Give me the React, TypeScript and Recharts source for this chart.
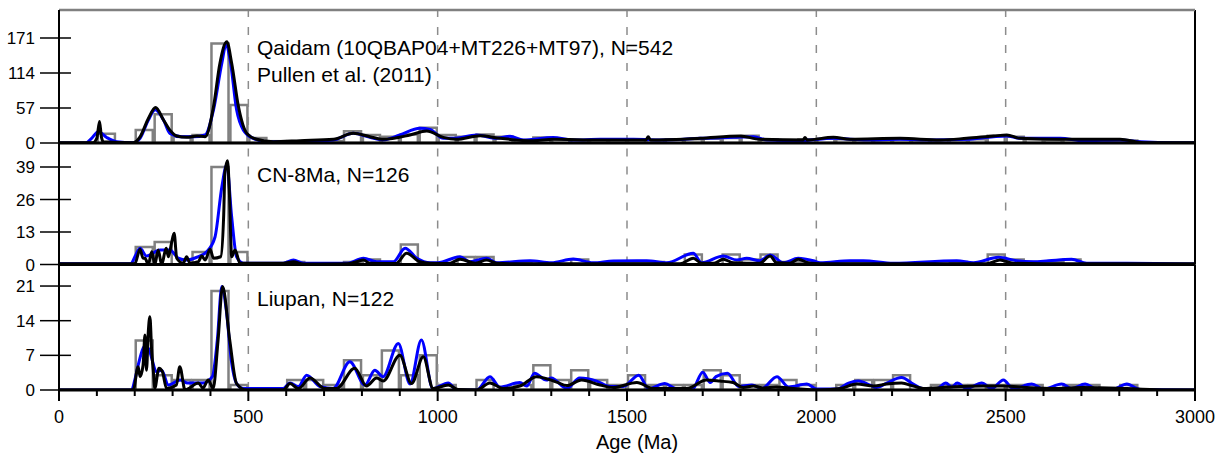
import React from "react";
import { ComposedChart, Bar, Line, XAxis, YAxis, ReferenceLine } from "recharts";

const W = 1222;
const H = 456;

// 50 Ma histogram bins
const binStart = [
  0, 50, 100, 150, 200, 250, 300, 350, 400, 450, 500, 550, 600, 650, 700, 750, 800, 850, 900, 950,
  1000, 1050, 1100, 1150, 1200, 1250, 1300, 1350, 1400, 1450, 1500, 1550, 1600, 1650, 1700, 1750, 1800, 1850, 1900, 1950,
  2000, 2050, 2100, 2150, 2200, 2250, 2300, 2350, 2400, 2450, 2500, 2550, 2600, 2650, 2700, 2750, 2800, 2850, 2900, 2950,
];

const qaidamCounts = [
  0, 0, 15, 0, 21, 47, 11, 13, 162, 62, 8, 3, 3, 2, 3, 19, 13, 10, 14, 25,
  13, 10, 14, 10, 5, 9, 6, 5, 5, 5, 5, 5, 6, 6, 7, 8, 12, 6, 5, 6,
  7, 6, 6, 5, 6, 5, 5, 5, 6, 12, 10, 6, 5, 6, 4, 3, 4, 1, 0, 0,
];
const cnCounts = [
  0, 0, 0, 0, 7, 9, 0, 5, 39, 5, 0, 0, 1, 0, 0, 1, 2, 0, 8, 0,
  0, 3, 3, 0, 1, 0, 0, 2, 0, 1, 1, 1, 0, 4, 0, 4, 2, 4, 1, 1,
  0, 1, 1, 0, 0, 0, 0, 1, 0, 4, 2, 1, 1, 2, 0, 0, 0, 0, 0, 0,
];
const liupanCounts = [
  0, 0, 0, 0, 10, 3, 2, 2, 20, 1, 0, 0, 2, 2, 1, 6, 3, 8, 3, 7,
  1, 0, 2, 0, 1, 5, 2, 4, 2, 1, 3, 1, 1, 1, 4, 3, 1, 1, 2, 1,
  0, 1, 2, 2, 3, 0, 1, 1, 1, 1, 1, 1, 0, 1, 1, 0, 1, 0, 0, 0,
];

// [age (Ma), density]
const qaidamKde: [number, number][] = [
  [0, 0], [70, 0], [86, 7.6], [104, 18.5], [126, 9], [152, 2], [196, 0.5], [214, 7.6], [236, 37.5], [254, 54],
  [276, 37.5], [293, 15.7], [324, 10], [355, 10], [386, 13], [408, 54], [430, 130], [441, 160], [452, 135], [469, 54],
  [487, 21], [513, 7.6], [548, 2.2], [637, 2.2], [725, 4.9], [777, 15.7], [821, 9.2], [857, 4.9], [900, 13], [953, 23.9],
  [980, 22], [1015, 7.6], [1041, 7.6], [1103, 13], [1156, 7.6], [1191, 11], [1226, 4.9], [1305, 9], [1358, 4.9], [1429, 6],
  [1517, 6], [1605, 4.9], [1693, 7.6], [1781, 9.2], [1834, 10.3], [1869, 4.9], [1957, 3.8], [2045, 7.6], [2133, 4.9], [2221, 6],
  [2309, 4.9], [2397, 6], [2468, 10.3], [2503, 11.4], [2538, 7.6], [2644, 7.6], [2705, 3.8], [2802, 4.9], [2855, 2.2], [2950, 0.5],
  [3000, 0.5],
];
const qaidamPdp: [number, number][] = [
  [0, 0.5], [90, 0.5], [100, 8], [107, 35], [112, 10], [117, 2], [196, 0.5], [214, 10], [236, 40], [255, 58],
  [276, 37.5], [293, 21], [311, 11.4], [337, 9.2], [364, 11.4], [386, 10.3], [408, 59], [425, 130], [443, 165], [456, 130],
  [474, 59], [496, 15.7], [522, 6], [566, 2.2], [637, 3.8], [725, 6], [777, 15.7], [821, 10.3], [857, 6], [927, 13],
  [971, 19.5], [1015, 9.2], [1050, 6], [1112, 11.9], [1165, 7.6], [1253, 3.8], [1305, 6], [1429, 4.9], [1550, 5], [1556, 10],
  [1562, 5], [1693, 7.6], [1798, 11.4], [1851, 6], [1965, 5], [1970, 9], [1976, 5], [2045, 9.2], [2089, 6], [2221, 7.6],
  [2327, 4.9], [2397, 7.6], [2468, 11.4], [2503, 13], [2538, 7.6], [2644, 6], [2802, 6], [2864, 0.5], [3000, 0.5],
];

const cnKde: [number, number][] = [
  [0, 0.3], [190, 0.3], [200, 3], [214, 6.5], [231, 3.4], [267, 5.8], [293, 5.8], [315, 2.5], [337, 1.8], [364, 2.9],
  [390, 5.1], [412, 11], [430, 31], [443, 39.8], [456, 19], [469, 3.1], [487, 0.5], [592, 0.5], [619, 1.8], [645, 0.5],
  [760, 0.5], [804, 2.5], [839, 1.1], [883, 1.1], [914, 6.5], [945, 2.5], [980, 0.7], [1000, 0.7], [1059, 3.1], [1085, 1.1],
  [1129, 2.5], [1156, 0.7], [1244, 1.5], [1300, 0.7], [1358, 2.2], [1410, 0.7], [1464, 1.4], [1552, 1.5], [1605, 0.7], [1675, 4.5],
  [1697, 0.7], [1754, 3.4], [1790, 1.8], [1816, 2.5], [1851, 1.5], [1878, 3.8], [1913, 0.7], [1952, 2.5], [1992, 1.5], [2010, 0.7],
  [2089, 1.5], [2124, 1.5], [2203, 0.5], [2371, 1.5], [2415, 0.7], [2481, 2.9], [2529, 1.5], [2573, 1.1], [2613, 1.5], [2674, 2.1],
  [2714, 0.5], [2820, 0.5], [3000, 0.2],
];
const cnPdp: [number, number][] = [
  [0, 0.3], [195, 0.3], [201, 0.5], [214, 6.1], [222, 2.5], [227, 2.5], [236, 0], [245, 5.1], [253, 0], [262, 5.8],
  [271, 0], [283, 6.5], [289, 3.1], [297, 8.5], [304, 12.5], [311, 2.5], [328, 0.5], [337, 3.1], [346, 0.5], [368, 1.1],
  [377, 3.4], [386, 1.8], [399, 6.1], [408, 2.5], [427, 3.1], [435, 20], [438, 36.5], [445, 41.5], [450, 28.5], [456, 3.1],
  [465, 5.8], [478, 0.5], [592, 0.5], [619, 1.1], [645, 0.2], [760, 0.3], [786, 1.1], [804, 1.8], [821, 0.5], [890, 0.4],
  [918, 4.5], [953, 1.1], [980, 0.5], [1030, 0.4], [1059, 2.1], [1100, 0.5], [1129, 1.8], [1156, 0.5], [1200, 0.3], [1640, 0.3],
  [1675, 2.5], [1697, 0.5], [1730, 0.5], [1754, 2.1], [1781, 0.7], [1850, 0.5], [1878, 3.4], [1895, 0.7], [1930, 0.5], [1952, 2.1],
  [1983, 0.5], [2040, 0.3], [2450, 0.3], [2485, 1.8], [2520, 0.5], [2600, 0.3], [3000, 0.3],
];

const liupanKde: [number, number][] = [
  [0, 0], [192, 0], [200, 2], [214, 6.5], [225, 8.8], [235, 8.5], [258, 3.7], [271, 4], [289, 1], [320, 2],
  [340, 1.4], [380, 1.4], [405, 2.7], [418, 10], [430, 20.9], [442, 16], [455, 6], [469, 1.3], [487, 0.3], [592, 0.3],
  [610, 1.4], [632, 0.7], [654, 3], [689, 0.7], [724, 0.3], [768, 5.7], [808, 1], [834, 4], [856, 2.7], [896, 9.4],
  [927, 1.2], [957, 10.1], [987, 0.3], [1028, 1.4], [1050, 0], [1103, 0], [1138, 2.7], [1164, 0.6], [1217, 1.5], [1235, 0.8],
  [1256, 3.4], [1287, 2], [1300, 2.4], [1341, 0.3], [1375, 2.4], [1420, 1.8], [1455, 0.7], [1490, 0.7], [1531, 3], [1557, 0.3],
  [1600, 1.3], [1628, 0.3], [1672, 0.1], [1700, 3.6], [1720, 1.5], [1735, 2.7], [1765, 3.4], [1795, 0.7], [1830, 1], [1856, 0.3],
  [1896, 2.7], [1927, 0.6], [1975, 1.2], [2001, 0.2], [2054, 0.2], [2085, 1.4], [2111, 1.8], [2142, 1], [2159, 0.5], [2186, 1.4],
  [2225, 2.5], [2256, 1.2], [2283, 0.3], [2318, 0.3], [2342, 1.4], [2358, 0.6], [2372, 1.4], [2397, 0.3], [2437, 1.4], [2463, 0.3],
  [2494, 2], [2520, 0.3], [2569, 1.2], [2600, 0.2], [2648, 1.2], [2674, 0.3], [2710, 1.2], [2740, 0.2], [2784, 0.2], [2820, 1.2],
  [2855, 0.1], [3000, 0],
];
const liupanPdp: [number, number][] = [
  [0, 0], [196, 0], [209, 4.7], [214, 2.7], [222, 5], [227, 11.1], [231, 4], [236, 12], [240, 14.8], [245, 7.5],
  [249, 4], [253, 0.4], [264, 4.4], [273, 3.7], [284, 0.3], [310, 1], [319, 4.7], [333, 0], [368, 1.4], [380, 0.4],
  [394, 2], [407, 0.3], [420, 10], [432, 20.9], [451, 10], [469, 1.3], [495, 0], [592, 0], [610, 1.3], [632, 0.3],
  [663, 2.4], [702, 0.3], [733, 0.3], [781, 4.4], [812, 0.8], [839, 2.4], [856, 1.8], [900, 7], [931, 1.3], [962, 6.7],
  [988, 0.3], [1028, 1], [1054, 0.1], [1103, 0], [1138, 1.4], [1173, 0.3], [1217, 0.8], [1261, 2.7], [1314, 1.6], [1341, 0.9],
  [1380, 2], [1429, 1], [1464, 0.5], [1526, 1.5], [1569, 0.3], [1658, 0.3], [1710, 2], [1745, 1.8], [1780, 1.5], [1807, 0.5],
  [1834, 0.8], [1860, 0.4], [1895, 0.6], [1939, 0.3], [2010, 0], [2063, 0.3], [2107, 1.2], [2151, 0.8], [2186, 1.2], [2225, 1.4],
  [2256, 0.8], [2283, 0.3], [2353, 0.6], [2441, 0.8], [2494, 0.8], [2556, 0.5], [2626, 0.3], [2705, 0.5], [2820, 0.3], [2925, 0],
  [3000, 0],
];

const ageTicks = [
  0, 100, 200, 300, 400, 500, 600, 700, 800, 900, 1000, 1100, 1200, 1300, 1400, 1500,
  1600, 1700, 1800, 1900, 2000, 2100, 2200, 2300, 2400, 2500, 2600, 2700, 2800, 2900, 3000,
];
const gridAges = [500, 1000, 1500, 2000, 2500];
const qaidamTicks = [0, 57, 114, 171];
const cnTicks = [0, 13, 26, 39];
const liupanTicks = [0, 7, 14, 21];

const FONT = '"Liberation Sans", Arial, Helvetica, sans-serif';

function YTick(props: any) {
  const { x, y, payload } = props;
  return (
    <g>
      <line x1={x - 19} x2={x + 12} y1={y} y2={y} stroke="#000" strokeWidth={1.5} />
      <text x={x - 24} y={y} dy="0.36em" textAnchor="end" fontSize={17} fill="#000" fontFamily={FONT}>
        {payload.value}
      </text>
    </g>
  );
}

function XTick(props: any) {
  const { x, y, payload } = props;
  const major = payload.value % 500 === 0;
  return (
    <g>
      <line x1={x} x2={x} y1={y} y2={y + (major ? 11 : 6)} stroke="#000" strokeWidth={2} />
      {major && (
        <text x={x} y={y + 32.5} textAnchor="middle" fontSize={18} fill="#000" fontFamily={FONT}>
          {payload.value}
        </text>
      )}
    </g>
  );
}

interface PanelProps {
  counts: number[];
  kde: [number, number][];
  pdp: [number, number][];
  yTicks: number[];
  yMax: number;
  top: number;
  bottom: number;
  showAxis?: boolean;
  topBorder?: boolean;
}

const AXIS_H = 66;

function Panel({ counts, kde, pdp, yTicks, yMax, top, bottom, showAxis, topBorder }: PanelProps) {
  const bins = binStart.map((s, i) => ({ start: s, count: counts[i] }));
  const kdeData = kde.map(([age, v]) => ({ age, v }));
  const pdpData = pdp.map(([age, v]) => ({ age, v }));
  const marginBottom = showAxis ? H - bottom - AXIS_H : H - bottom;

  return (
    <div style={{ position: "absolute", left: 0, top: 0 }}>
      <ComposedChart
        width={W}
        height={H}
        data={bins}
        barCategoryGap={0}
        barGap={0}
        margin={{ top, right: 27, left: 0, bottom: marginBottom }}
      >
        <XAxis xAxisId="bins" dataKey="start" type="category" hide />
        <XAxis
          xAxisId="age"
          dataKey="age"
          type="number"
          domain={[0, 3000]}
          ticks={ageTicks}
          interval={0}
          allowDataOverflow
          hide={!showAxis}
          height={AXIS_H}
          axisLine={false}
          tickLine={false}
          tickSize={0}
          tickMargin={0}
          tick={(p: any) => <XTick {...p} />}
        />
        <YAxis
          width={59}
          type="number"
          domain={[0, yMax]}
          ticks={yTicks}
          interval={0}
          allowDataOverflow
          tickLine={false}
          tickSize={0}
          tickMargin={0}
          axisLine={{ stroke: "#000", strokeWidth: 2 }}
          tick={(p: any) => <YTick {...p} />}
        />
        {gridAges.map((a) => (
          <ReferenceLine key={a} xAxisId="age" x={a} stroke="#8c8c8c" strokeWidth={1.5} strokeDasharray="8 10" />
        ))}
        <Bar
          xAxisId="bins"
          dataKey="count"
          fill="none"
          stroke="#808080"
          strokeWidth={2.5}
          barSize={1136 / 60}
          isAnimationActive={false}
        />
        <Line
          xAxisId="age"
          data={kdeData}
          dataKey="v"
          type="monotone"
          stroke="#0000ff"
          strokeWidth={3}
          dot={false}
          activeDot={false}
          isAnimationActive={false}
        />
        <Line
          xAxisId="age"
          data={pdpData}
          dataKey="v"
          type="monotone"
          stroke="#000000"
          strokeWidth={3}
          dot={false}
          activeDot={false}
          isAnimationActive={false}
        />
        <ReferenceLine xAxisId="age" y={0} stroke="#000" strokeWidth={3} />
        <ReferenceLine xAxisId="age" x={3000} stroke="#000" strokeWidth={2} />
        {topBorder && <ReferenceLine xAxisId="age" y={yMax} stroke="#808080" strokeWidth={2.5} />}
      </ComposedChart>
    </div>
  );
}

export default function App() {
  return (
    <div
      style={{
        position: "absolute",
        left: 0,
        top: 0,
        width: W,
        height: H,
        background: "#fff",
        fontFamily: FONT,
        overflow: "hidden",
      }}
    >
      <Panel counts={qaidamCounts} kde={qaidamKde} pdp={qaidamPdp} yTicks={qaidamTicks} yMax={216.6} top={10} bottom={143} topBorder />
      <Panel counts={cnCounts} kde={cnKde} pdp={cnPdp} yTicks={cnTicks} yMax={48.6} top={143} bottom={264.5} />
      <Panel counts={liupanCounts} kde={liupanKde} pdp={liupanPdp} yTicks={liupanTicks} yMax={25.35} top={264.5} bottom={390} showAxis />
      <svg width={W} height={H} style={{ position: "absolute", left: 0, top: 0, pointerEvents: "none" }}>
        <g fontFamily={FONT} fontSize={21} fill="#000">
          <text x={257} y={55}>Qaidam (10QBAP04+MT226+MT97), N=542</text>
          <text x={257} y={82}>Pullen et al. (2011)</text>
          <text x={257} y={181.5}>CN-8Ma, N=126</text>
          <text x={257} y={305.5}>Liupan, N=122</text>
          <text x={637} y={449} fontSize={20} textAnchor="middle">Age (Ma)</text>
        </g>
      </svg>
    </div>
  );
}
